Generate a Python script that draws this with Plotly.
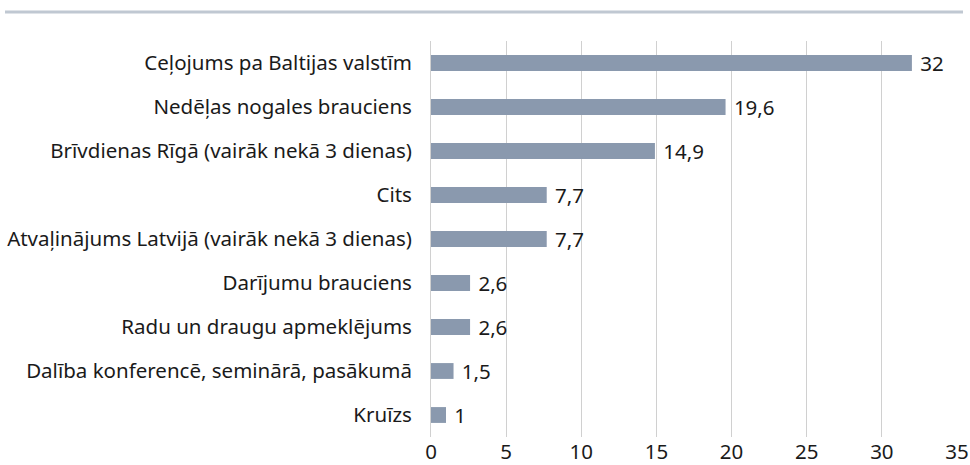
import plotly.graph_objects as go

categories = [
    "Ceļojums pa Baltijas valstīm",
    "Nedēļas nogales brauciens",
    "Brīvdienas Rīgā (vairāk nekā 3 dienas)",
    "Cits",
    "Atvaļinājums Latvijā (vairāk nekā 3 dienas)",
    "Darījumu brauciens",
    "Radu un draugu apmeklējums",
    "Dalība konferencē, seminārā, pasākumā",
    "Kruīzs",
]
values = [32, 19.6, 14.9, 7.7, 7.7, 2.6, 2.6, 1.5, 1]
x_ticks = [0, 5, 10, 15, 20, 25, 30, 35]

labels = [" " + ("%g" % v).replace(".", ",") for v in values]

FONT = "Noto Sans"
FS = 20.5

L, R, T, B = 431, 13, 41, 28
PW = 970 - L - R
PH = 465 - T - B

fig = go.Figure(go.Bar(
    y=categories,
    x=values,
    orientation="h",
    marker=dict(color="#8a99ae", line=dict(width=0)),
    width=0.36,
    text=labels,
    textposition="outside",
    constraintext="none",
    textfont=dict(family=FONT, size=FS, color="#1a1a1a"),
    cliponaxis=False,
))

fig.update_layout(
    width=970, height=465,
    margin=dict(l=L, r=R, t=T, b=B),
    paper_bgcolor="white", plot_bgcolor="white",
    font=dict(family=FONT, size=FS, color="#1a1a1a"),
    showlegend=False,
    xaxis=dict(
        range=[0, 35], tickvals=x_ticks, showgrid=True,
        gridcolor="#d0d0d0", gridwidth=1, zeroline=False,
        showline=False, ticks="", tickfont=dict(size=FS),
        automargin=False,
    ),
    yaxis=dict(
        autorange="reversed", showgrid=False, showline=True,
        linecolor="#d0d0d0", linewidth=1, ticks="",
        ticklabelstandoff=14,
        tickfont=dict(size=FS), automargin=False,
    ),
    shapes=[dict(
        type="line", xref="paper", yref="paper",
        x0=(5 - L) / PW, x1=(963 - L) / PW,
        y0=1 + (T - 12) / PH, y1=1 + (T - 12) / PH,
        line=dict(color="#c0c8d2", width=3),
    )],
)

fig.write_html(
    "out.html",
    config={"displayModeBar": False},
    post_script="document.body.style.margin='0';document.body.style.padding='0';",
)
